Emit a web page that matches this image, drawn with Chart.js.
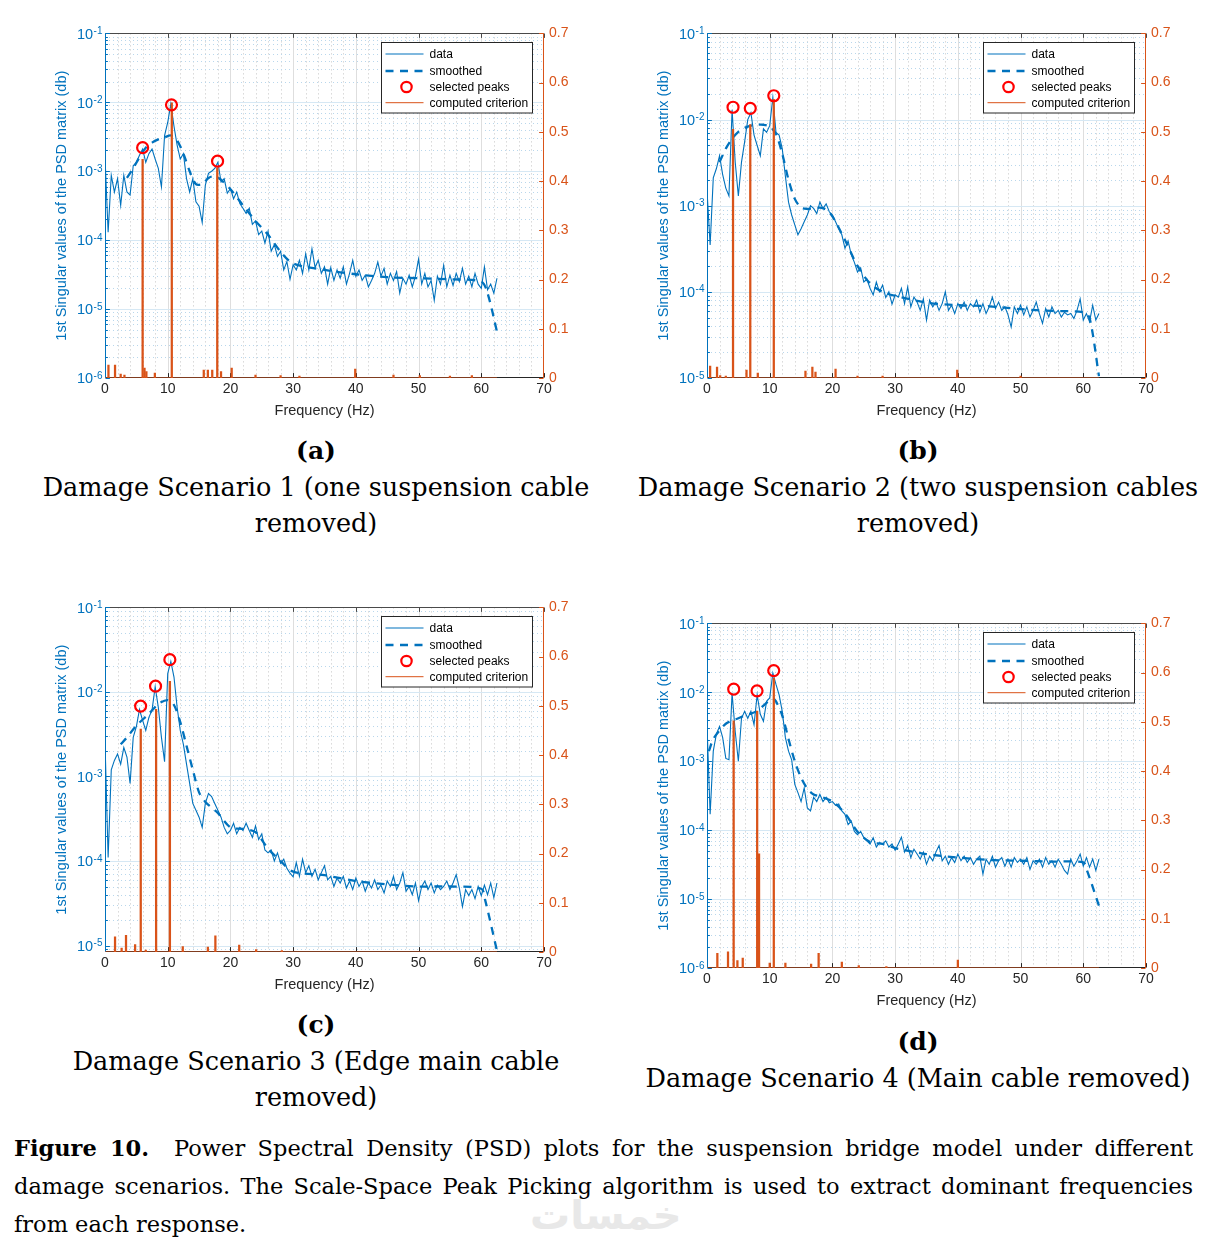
<!DOCTYPE html>
<html>
<head>
<meta charset="utf-8">
<script src="https://cdn.jsdelivr.net/npm/chart.js@4.4.1/dist/chart.umd.min.js"></script>
<style>
  body { margin: 0; background: #fff; width: 1215px; height: 1259px; position: relative; overflow: hidden; }
  canvas { position: absolute; }
  .sub { position: absolute; width: 640px; text-align: center; font-family: "DejaVu Serif", serif; font-size: 25.5px; line-height: 36px; color: #000; white-space: nowrap; }
  .sub b { font-size: 25px; }
  .cap { position: absolute; left: 14px; width: 1179px; font-family: "DejaVu Serif", serif; font-size: 22.5px; line-height: 38px; color: #000; white-space: nowrap; }
  .cap div { text-align: justify; text-align-last: justify; }
  .cap div.last { text-align: left; text-align-last: left; }
  .wm { position: absolute; left: 530px; top: 1192px; width: 150px; text-align: center; font-family: "DejaVu Sans", sans-serif; font-weight: bold; font-size: 40px; color: #e8e8e8; }
</style>
</head>
<body>
<canvas id="cA" width="570" height="410" style="left:40px;top:20px"></canvas>
<canvas id="cB" width="570" height="410" style="left:642px;top:20px"></canvas>
<canvas id="cC" width="570" height="410" style="left:40px;top:594px"></canvas>
<canvas id="cD" width="570" height="410" style="left:642px;top:610px"></canvas>

<div class="sub" style="left:-4px;top:432px"><b>(a)</b><br>Damage Scenario 1 (one suspension cable<br>removed)</div>
<div class="sub" style="left:598px;top:432px"><b>(b)</b><br>Damage Scenario 2 (two suspension cables<br>removed)</div>
<div class="sub" style="left:-4px;top:1006px"><b>(c)</b><br>Damage Scenario 3 (Edge main cable<br>removed)</div>
<div class="sub" style="left:598px;top:1023px"><b>(d)</b><br>Damage Scenario 4 (Main cable removed)</div>

<div class="wm">خمسات</div>
<div class="cap" style="top:1129px">
  <div><b>Figure 10.</b>&nbsp; Power Spectral Density (PSD) plots for the suspension bridge model under different</div>
  <div>damage scenarios. The Scale-Space Peak Picking algorithm is used to extract dominant frequencies</div>
  <div class="last">from each response.</div>
</div>

<script>
// frequency bins (Hz) shared by the four spectra
var FREQ = [0,0.5,1,1.5,2,2.5,3,3.5,4,4.5,5,5.5,6,6.5,7,7.5,8,8.5,9,9.5,
  10,10.5,11,11.5,12,12.5,13,13.5,14,14.5,15,15.5,16,16.5,17,17.5,18,18.5,19,19.5,
  20,20.5,21,21.5,22,22.5,23,23.5,24,24.5,25,25.5,26,26.5,27,27.5,28,28.5,29,29.5,
  30,30.5,31,31.5,32,32.5,33,33.5,34,34.5,35,35.5,36,36.5,37,37.5,38,38.5,39,39.5,
  40,40.5,41,41.5,42,42.5,43,43.5,44,44.5,45,45.5,46,46.5,47,47.5,48,48.5,49,49.5,
  50,50.5,51,51.5,52,52.5,53,53.5,54,54.5,55,55.5,56,56.5,57,57.5,58,58.5,59,59.5,
  60,60.5,61,61.5,62,62.5];

// 1st singular value of the PSD matrix, scenario 1..4
var PSD_A = [1.6e-3,1.3e-4,8.7e-4,5.0e-4,7.8e-4,3.2e-4,8.7e-4,5.0e-4,4.5e-4,1.2e-3,
  1.35e-3,1.7e-3,2.1e-3,1.35e-3,1.8e-3,2.1e-3,1.5e-3,1.1e-3,5.9e-4,3.3e-3,
  5.1e-3,9.5e-3,4.5e-3,2.4e-3,1.5e-3,1.8e-3,7.8e-4,5.0e-4,7.8e-4,3.6e-4,
  3.1e-4,1.8e-4,6.3e-4,9.3e-4,1.0e-3,1.1e-3,1.35e-3,7.0e-4,7.8e-4,4.8e-4,
  5.6e-4,4.0e-4,5.0e-4,3.4e-4,2.9e-4,2.45e-4,2.9e-4,1.7e-4,1.9e-4,1.2e-4,
  1.35e-4,9.1e-5,1.35e-4,6.9e-5,8.6e-5,5.8e-5,6.9e-5,3.7e-5,4.9e-5,2.7e-5,
  4.4e-5,3.7e-5,5.1e-5,3.3e-5,6.3e-5,3.7e-5,7.5e-5,4.0e-5,5.1e-5,3.3e-5,
  4.1e-5,2.3e-5,4.0e-5,2.6e-5,3.7e-5,2.8e-5,4.1e-5,2.3e-5,3.3e-5,5.1e-5,
  3.0e-5,3.7e-5,2.6e-5,3.1e-5,2.1e-5,2.6e-5,3.3e-5,4.8e-5,3.0e-5,3.9e-5,
  2.3e-5,3.3e-5,2.6e-5,3.5e-5,1.7e-5,2.8e-5,2.3e-5,3.1e-5,2.1e-5,3.0e-5,
  5.3e-5,2.3e-5,3.3e-5,2.1e-5,2.6e-5,1.34e-5,3.0e-5,2.3e-5,4.3e-5,2.1e-5,
  3.1e-5,2.2e-5,3.3e-5,2.5e-5,3.9e-5,2.3e-5,3.0e-5,2.1e-5,3.3e-5,2.3e-5,
  2.0e-5,4.1e-5,1.9e-5,2.3e-5,1.7e-5,2.8e-5];
var PSD_B = [1.5e-3,3.5e-4,2.1e-3,2.7e-3,3.8e-3,2.3e-3,1.6e-3,1.3e-3,1.3e-2,3.2e-3,
  1.3e-3,3.2e-3,5.5e-3,1.0e-2,1.2e-2,6.6e-3,5.0e-3,3.8e-3,7.8e-3,7.1e-3,
  8.5e-3,1.8e-2,7.1e-3,6.6e-3,4.6e-3,2.2e-3,1.1e-3,7.8e-4,6.0e-4,4.6e-4,
  5.4e-4,6.5e-4,7.8e-4,1.0e-3,9.3e-4,8.1e-4,1.1e-3,9.3e-4,1.05e-3,8.5e-4,
  7.8e-4,6.5e-4,5.4e-4,4.6e-4,3.2e-4,3.9e-4,2.7e-4,2.2e-4,1.7e-4,1.9e-4,
  1.3e-4,1.4e-4,1.1e-4,9.2e-5,1.3e-4,1.0e-4,1.2e-4,8.6e-5,1.0e-4,7.2e-5,
  9.2e-5,8.7e-5,1.1e-4,7.3e-5,1.14e-4,6.7e-5,8.7e-5,7.6e-5,6.1e-5,8.3e-5,
  4.7e-5,8.0e-5,6.7e-5,7.6e-5,6.1e-5,7.3e-5,1.0e-4,6.1e-5,7.0e-5,5.6e-5,
  7.3e-5,6.4e-5,7.6e-5,6.1e-5,7.3e-5,6.7e-5,8.0e-5,5.8e-5,7.3e-5,5.6e-5,
  6.7e-5,8.7e-5,6.4e-5,7.6e-5,6.1e-5,6.7e-5,5.4e-5,3.9e-5,6.7e-5,5.6e-5,
  7.0e-5,5.4e-5,6.7e-5,5.1e-5,6.1e-5,7.6e-5,5.6e-5,4.3e-5,6.4e-5,5.1e-5,
  6.7e-5,5.6e-5,6.1e-5,5.1e-5,5.8e-5,5.4e-5,5.6e-5,4.9e-5,6.1e-5,8.3e-5,
  4.7e-5,5.6e-5,4.5e-5,7.0e-5,4.7e-5,5.6e-5];
var PSD_C = [2.6e-3,1.1e-4,1.2e-3,1.55e-3,1.85e-3,1.4e-3,2.2e-3,1.7e-3,8.3e-4,2.9e-3,
  3.9e-3,6.2e-3,4.6e-3,3.5e-3,5.0e-3,6.1e-3,1.15e-2,6.6e-3,2.9e-3,1.5e-3,
  1.65e-2,2.3e-2,1.5e-2,6.6e-3,3.5e-3,2.4e-3,1.4e-3,8.3e-4,4.8e-4,4.0e-4,
  3.3e-4,2.5e-4,4.8e-4,6.3e-4,5.8e-4,4.8e-4,4.0e-4,3.3e-4,2.5e-4,2.1e-4,
  2.3e-4,2.8e-4,2.1e-4,2.5e-4,2.3e-4,2.8e-4,2.3e-4,1.9e-4,2.6e-4,1.8e-4,
  2.1e-4,1.35e-4,1.25e-4,1.35e-4,1.0e-4,1.25e-4,9.4e-5,1.05e-4,8.2e-5,7.2e-5,
  6.5e-5,9.6e-5,6.6e-5,1.05e-4,7.3e-5,8.8e-5,6.6e-5,8.0e-5,6.0e-5,7.3e-5,
  8.8e-5,6.0e-5,6.6e-5,5.0e-5,6.3e-5,5.5e-5,6.6e-5,4.8e-5,5.8e-5,4.6e-5,
  6.3e-5,5.0e-5,5.8e-5,4.4e-5,5.5e-5,4.8e-5,6.0e-5,4.6e-5,5.2e-5,4.2e-5,
  5.8e-5,5.0e-5,6.6e-5,4.6e-5,5.5e-5,7.3e-5,4.4e-5,5.0e-5,4.0e-5,5.5e-5,
  3.4e-5,5.0e-5,5.8e-5,4.6e-5,5.5e-5,4.2e-5,5.2e-5,4.6e-5,5.0e-5,5.8e-5,
  4.6e-5,5.5e-5,6.9e-5,4.8e-5,2.9e-5,4.6e-5,3.9e-5,4.6e-5,3.6e-5,5.0e-5,
  3.9e-5,5.2e-5,4.0e-5,5.5e-5,3.7e-5,5.5e-5];
var PSD_D = [3.4e-3,1.7e-4,1.4e-3,2.5e-3,3.2e-3,2.2e-3,1.1e-3,1.05e-3,9.7e-3,2.7e-3,
  1.0e-3,4.2e-3,5.3e-3,4.2e-3,5.3e-3,3.4e-3,9.2e-3,4.8e-3,3.8e-3,7.4e-3,
  8.3e-3,1.9e-2,1.3e-2,9.2e-3,5.3e-3,2.2e-3,1.4e-3,1.05e-3,4.6e-4,3.5e-4,
  2.6e-4,4.1e-4,2.1e-4,1.9e-4,3.0e-4,2.6e-4,3.3e-4,2.6e-4,3.0e-4,2.5e-4,
  2.6e-4,2.3e-4,2.4e-4,1.9e-4,1.7e-4,1.2e-4,1.35e-4,9.6e-5,8.6e-5,9.6e-5,
  7.8e-5,7.0e-5,6.3e-5,7.8e-5,5.7e-5,6.6e-5,6.3e-5,7.0e-5,5.7e-5,6.3e-5,
  5.1e-5,6.3e-5,7.9e-5,4.8e-5,6.0e-5,4.0e-5,5.3e-5,4.5e-5,3.8e-5,4.8e-5,
  3.2e-5,4.2e-5,3.6e-5,4.8e-5,6.0e-5,3.6e-5,4.2e-5,3.2e-5,4.0e-5,3.4e-5,
  4.5e-5,3.6e-5,4.2e-5,3.4e-5,4.0e-5,3.2e-5,3.8e-5,4.2e-5,2.3e-5,3.8e-5,
  3.2e-5,4.2e-5,2.9e-5,3.6e-5,4.0e-5,3.0e-5,3.8e-5,2.9e-5,4.0e-5,3.4e-5,
  3.8e-5,3.2e-5,4.0e-5,2.7e-5,3.6e-5,3.2e-5,3.8e-5,2.9e-5,4.0e-5,3.2e-5,
  3.6e-5,2.9e-5,3.8e-5,3.2e-5,2.6e-5,2.3e-5,3.8e-5,3.0e-5,3.6e-5,4.5e-5,
  3.0e-5,4.0e-5,2.9e-5,3.8e-5,2.6e-5,3.8e-5];

// smoothed spectra
var SM_A_F = [3.5,4.5,5.5,6.5,7.5,8.5,9.5,10.5,11.5,12.5,13.5,14.5,15.5,16.5,17.5,18.5,20,22,24,26,28,30,35,40,45,50,55,60,61,62.5];
var SM_A_V = [8e-4,1.1e-3,1.6e-3,2.2e-3,2.6e-3,2.9e-3,3.1e-3,3.3e-3,2.8e-3,1.8e-3,1.0e-3,6.5e-4,6.5e-4,8e-4,8.5e-4,7.5e-4,5.5e-4,3.2e-4,1.9e-4,1.2e-4,6.8e-5,4.6e-5,3.7e-5,3.2e-5,2.9e-5,2.8e-5,2.7e-5,2.5e-5,1.7e-5,4.7e-6];
var SM_B_F = [2,3,4,5,6,7,8,9,10,11,12,13,14,15,16,17,18,19,20,22,24,26,28,30,35,40,45,50,55,60,61,62.5];
var SM_B_V = [3.2e-3,4.6e-3,6.0e-3,7.2e-3,8.0e-3,8.5e-3,8.7e-3,8.7e-3,8.3e-3,6.8e-3,4.0e-3,2.0e-3,1.2e-3,9.5e-4,9.2e-4,9.3e-4,9.5e-4,9.0e-4,7.5e-4,4.0e-4,2.0e-4,1.25e-4,1.0e-4,9.0e-5,7.5e-5,7.0e-5,6.8e-5,6.3e-5,6.0e-5,5.8e-5,5.0e-5,1.05e-5];
var SM_C_F = [2.5,3.5,5,7,8.5,10,11,12,13,14,15,16,17,18,20,22,24,26,28,30,35,40,45,50,55,60,60.6,62.5];
var SM_C_V = [2.4e-3,2.9e-3,4.0e-3,5.5e-3,7.2e-3,8.0e-3,7.0e-3,4.4e-3,2.3e-3,1.2e-3,6.5e-4,5.0e-4,4.3e-4,3.7e-4,2.5e-4,2.4e-4,2.2e-4,1.4e-4,1.0e-4,7.5e-5,6.8e-5,5.8e-5,5.3e-5,5.0e-5,5.0e-5,4.7e-5,3.5e-5,8.7e-6];
var SM_D_F = [0.3,1,2,3,4,5,6,7,8,9,10,10.5,11,12,13,14,15,16,17,18,20,22,24,26,28,30,35,40,45,50,55,60,60.6,62.5];
var SM_D_V = [1.4e-3,2.1e-3,2.8e-3,3.5e-3,3.9e-3,4.2e-3,4.6e-3,4.9e-3,5.4e-3,6.4e-3,7.8e-3,8.1e-3,7.4e-3,4.6e-3,2.1e-3,1.0e-3,5.8e-4,4.0e-4,3.3e-4,3.1e-4,2.6e-4,1.75e-4,9.5e-5,6.7e-5,6.3e-5,5.5e-5,4.5e-5,4.0e-5,3.7e-5,3.6e-5,3.5e-5,3.4e-5,2.6e-5,8.0e-6];

// selected peaks
var PK_A_F = [6.0, 10.6, 17.95]; var PK_A_V = [2.2e-3, 9.2e-3, 1.4e-3];
var PK_B_F = [4.15, 6.9, 10.65];  var PK_B_V = [1.39e-2, 1.35e-2, 1.89e-2];
var PK_C_F = [5.68, 8.06, 10.34]; var PK_C_V = [6.8e-3, 1.17e-2, 2.41e-2];
var PK_D_F = [4.26, 7.98, 10.64]; var PK_D_V = [1.11e-2, 1.05e-2, 2.07e-2];

// computed criterion (right axis)
var CR_A_F = [0.55,1.6,2.5,3.1,6.0,6.3,6.6,7.95,10.65,15.75,16.4,17.1,17.9,18.5,20.2,24,28,31,39.9,46,50.2,55,58.5];
var CR_A_V = [0.026,0.026,0.008,0.006,0.444,0.02,0.013,0.01,0.559,0.016,0.016,0.016,0.427,0.013,0.02,0.006,0.005,0.004,0.018,0.006,0.005,0.004,0.005];
var CR_B_F = [0.5,1.6,2.1,3.0,4.15,6.3,6.9,8.1,10.65,15.7,16.8,17.3,20.5,24,28,39.9,50];
var CR_B_V = [0.024,0.022,0.005,0.004,0.505,0.016,0.515,0.01,0.566,0.014,0.022,0.012,0.018,0.004,0.004,0.016,0.004];
var CR_C_F = [1.6,2.65,3.35,4.8,5.7,6.5,8.15,10.35,12.4,16.4,17.6,21.4,24.1,28.2];
var CR_C_V = [0.031,0.008,0.034,0.015,0.453,0.004,0.493,0.55,0.011,0.01,0.033,0.014,0.005,0.003];
var CR_D_F = [1.65,3.35,4.25,4.85,5.7,8.0,8.3,10.0,10.65,12.5,16.6,17.8,21.5,24.2,28.6,40];
var CR_D_V = [0.030,0.033,0.502,0.015,0.02,0.522,0.232,0.01,0.589,0.01,0.008,0.030,0.012,0.005,0.003,0.016];

var X_TICKS = [0, 10, 20, 30, 40, 50, 60, 70];
var R_TICKS = [0, 0.1, 0.2, 0.3, 0.4, 0.5, 0.6, 0.7];
var LEGEND_LABELS = ["data", "smoothed", "selected peaks", "computed criterion"];

var BLUE = "#0072BD";
var ORANGE = "#D95319";
var RED = "#FF0000";
var DARK = "#262626";
var FONT = "'Liberation Sans', Arial, sans-serif";

function pairs(xs, ys) {
    var out = [];
    for (var i = 0; i < xs.length; i++) {
        out.push({ x: xs[i], y: ys[i] });
    }
    return out;
}

function hline(ctx, x1, x2, y) { ctx.beginPath(); ctx.moveTo(x1, y); ctx.lineTo(x2, y); ctx.stroke(); }
function vline(ctx, x, y1, y2) { ctx.beginPath(); ctx.moveTo(x, y1); ctx.lineTo(x, y2); ctx.stroke(); }

// log decades and 2..9 minors inside the left axis range
function logTicks(scale) {
    var major = [], minor = [];
    var lo = Math.floor(Math.log10(scale.min)), hi = Math.ceil(Math.log10(scale.max));
    for (var d = lo; d <= hi; d++) {
        var v = Math.pow(10, d);
        if (v >= scale.min * 0.999 && v <= scale.max * 1.001) major.push(d);
        for (var m = 2; m <= 9; m++) {
            var w = m * v;
            if (w > scale.min && w < scale.max) minor.push(w);
        }
    }
    return { major: major, minor: minor };
}

// MATLAB-like grid, box and inward ticks
var matlabAxes = {
    id: "matlabAxes",
    beforeDatasetsDraw: function (chart) {
        var ctx = chart.ctx, a = chart.chartArea;
        var x = chart.scales.x, y = chart.scales.y, yR = chart.scales.yR;
        var lt = logTicks(y);
        ctx.save();
        ctx.lineWidth = 1;

        // minor grid, dotted
        ctx.setLineDash([1, 3]);
        ctx.strokeStyle = "#c4c4c4";
        for (var f = 2; f < 70; f += 2) {
            if (f % 10 === 0) continue;
            vline(ctx, Math.round(x.getPixelForValue(f)) + 0.5, a.top, a.bottom);
        }
        ctx.strokeStyle = "#b9d7ec";
        lt.minor.forEach(function (v) {
            hline(ctx, a.left, a.right, Math.round(y.getPixelForValue(v)) + 0.5);
        });

        // major grid
        ctx.setLineDash([]);
        ctx.strokeStyle = "#dedede";
        X_TICKS.forEach(function (t) {
            if (t > 0 && t < 70) vline(ctx, Math.round(x.getPixelForValue(t)) + 0.5, a.top, a.bottom);
        });
        ctx.strokeStyle = "#d6e8f4";
        lt.major.forEach(function (d) {
            var py = Math.round(y.getPixelForValue(Math.pow(10, d))) + 0.5;
            if (py > a.top + 1 && py < a.bottom - 1) hline(ctx, a.left, a.right, py);
        });

        // box lines
        var L = Math.round(a.left) + 0.5, R = Math.round(a.right) - 0.5;
        var T = Math.round(a.top) + 0.5, B = Math.round(a.bottom) - 0.5;
        ctx.strokeStyle = "#4a4a4a";
        hline(ctx, L, R, T);
        ctx.strokeStyle = DARK;
        hline(ctx, L, R, B);
        X_TICKS.forEach(function (t) {
            var px = Math.round(x.getPixelForValue(t)) + 0.5;
            ctx.strokeStyle = DARK;
            vline(ctx, px, B, B - 4.4);
            ctx.strokeStyle = "#4a4a4a";
            vline(ctx, px, T, T + 4.4);
        });
        ctx.strokeStyle = BLUE;
        vline(ctx, L, a.top, a.bottom);
        lt.major.forEach(function (d) {
            hline(ctx, L, L + 4.4, Math.round(y.getPixelForValue(Math.pow(10, d))) + 0.5);
        });
        lt.minor.forEach(function (v) {
            hline(ctx, L, L + 2.4, Math.round(y.getPixelForValue(v)) + 0.5);
        });
        ctx.strokeStyle = ORANGE;
        vline(ctx, R, a.top, a.bottom);
        R_TICKS.forEach(function (t) {
            hline(ctx, R - 4.4, R, Math.round(yR.getPixelForValue(t)) + 0.5);
        });

        // left tick labels 10^n
        ctx.fillStyle = BLUE;
        ctx.textAlign = "right";
        ctx.textBaseline = "alphabetic";
        lt.major.forEach(function (d) {
            var py = y.getPixelForValue(Math.pow(10, d));
            var ex = a.left - 2.5;
            var exp = String(d);
            ctx.font = "10px " + FONT;
            var ew = ctx.measureText(exp).width;
            ctx.fillText(exp, ex, py + 0.5);
            ctx.font = "14.5px " + FONT;
            ctx.fillText("10", ex - ew - 0.5, py + 5.2);
        });
        ctx.restore();
    },
    afterDatasetsDraw: function (chart) {
        var ctx = chart.ctx, a = chart.chartArea;
        var bw = 151, bh = 70.5;
        var bx = Math.round(a.right - 12 - bw) + 0.5, by = Math.round(a.top + 9) + 0.5;
        var rows = [11.5, 28.5, 44.5, 60.2];
        ctx.save();
        ctx.fillStyle = "#fff";
        ctx.fillRect(bx, by, bw, bh);
        ctx.strokeStyle = DARK;
        ctx.lineWidth = 1;
        ctx.strokeRect(bx, by, bw, bh);

        ctx.lineWidth = 1.2;
        ctx.strokeStyle = BLUE;
        hline(ctx, bx + 4, bx + 42, by + rows[0]);
        ctx.lineWidth = 2.3;
        ctx.setLineDash([8, 6.5]);
        hline(ctx, bx + 4, bx + 42, by + rows[1]);
        ctx.setLineDash([]);
        ctx.strokeStyle = RED;
        ctx.lineWidth = 2.2;
        ctx.beginPath();
        ctx.arc(bx + 25, by + rows[2], 5.2, 0, Math.PI * 2);
        ctx.stroke();
        ctx.strokeStyle = ORANGE;
        ctx.lineWidth = 1;
        hline(ctx, bx + 4, bx + 42, by + rows[3]);

        ctx.fillStyle = "#000";
        ctx.font = "12px " + FONT;
        ctx.textAlign = "left";
        ctx.textBaseline = "middle";
        LEGEND_LABELS.forEach(function (t, i) {
            ctx.fillText(t, bx + 48, by + rows[i] + 0.5);
        });
        ctx.restore();
    }
};

function makePanel(id, psd, smF, smV, pkF, pkV, crF, crV, yMin, yMax) {
    var ctx = document.getElementById(id).getContext("2d");
    return new Chart(ctx, {
        type: "line",
        data: {
            datasets: [
                {
                    label: "data",
                    data: pairs(FREQ, psd),
                    borderColor: BLUE,
                    borderWidth: 1.1,
                    pointRadius: 0,
                    tension: 0,
                    yAxisID: "y",
                    order: 4,
                },
                {
                    label: "smoothed",
                    data: pairs(smF, smV),
                    borderColor: BLUE,
                    borderWidth: 2.3,
                    borderDash: [8, 6.5],
                    pointRadius: 0,
                    tension: 0.3,
                    yAxisID: "y",
                    order: 3,
                },
                {
                    type: "bar",
                    label: "computed criterion",
                    data: pairs(crF, crV),
                    backgroundColor: ORANGE,
                    barThickness: 1.6,
                    yAxisID: "yR",
                    order: 2,
                },
                {
                    label: "criterion base",
                    data: [{ x: FREQ[0], y: 0 }, { x: FREQ[FREQ.length - 1], y: 0 }],
                    borderColor: ORANGE,
                    borderWidth: 1.2,
                    pointRadius: 0,
                    yAxisID: "yR",
                    order: 2,
                },
                {
                    label: "selected peaks",
                    data: pairs(pkF, pkV),
                    showLine: false,
                    pointRadius: 5.5,
                    pointBorderWidth: 2.2,
                    pointBorderColor: RED,
                    pointBackgroundColor: "rgba(0,0,0,0)",
                    yAxisID: "y",
                    order: 1,
                },
            ],
        },
        options: {
            responsive: false,
            animation: false,
            events: [],
            layout: { padding: { top: 12, left: 0, right: 0, bottom: 0 } },
            plugins: {
                legend: { display: false },
                tooltip: { enabled: false },
            },
            scales: {
                x: {
                    type: "linear",
                    min: 0,
                    max: 70,
                    offset: false,
                    grid: { display: false, drawTicks: false },
                    border: { display: false },
                    ticks: { stepSize: 10, color: DARK, padding: 3, maxRotation: 0, autoSkip: false, font: { family: FONT, size: 14 } },
                    title: { display: true, text: "Frequency (Hz)", color: DARK, font: { family: FONT, size: 14.5 }, padding: { top: 0, bottom: 10 } },
                    afterFit: function (s) { s.height = 52; },
                },
                y: {
                    type: "logarithmic",
                    position: "left",
                    min: yMin,
                    max: yMax,
                    grid: { display: false, drawTicks: false },
                    border: { display: false },
                    ticks: { display: false },
                    title: { display: true, text: "1st Singular values of the PSD matrix (db)", color: BLUE, font: { family: FONT, size: 14.5 }, padding: { top: 13, bottom: 0 } },
                    afterFit: function (s) { s.width = 65; },
                },
                yR: {
                    type: "linear",
                    position: "right",
                    min: 0,
                    max: 0.7,
                    grid: { display: false, drawTicks: false },
                    border: { display: false },
                    ticks: {
                        stepSize: 0.1,
                        color: ORANGE,
                        padding: 5,
                        font: { family: FONT, size: 14 },
                        callback: function (v) { return v === 0 ? "0" : v.toFixed(1); },
                    },
                    afterFit: function (s) { s.width = 66; },
                },
            },
        },
        plugins: [matlabAxes],
    });
}

makePanel("cA", PSD_A, SM_A_F, SM_A_V, PK_A_F, PK_A_V, CR_A_F, CR_A_V, 1e-6, 1e-1);
makePanel("cB", PSD_B, SM_B_F, SM_B_V, PK_B_F, PK_B_V, CR_B_F, CR_B_V, 1e-5, 1e-1);
makePanel("cC", PSD_C, SM_C_F, SM_C_V, PK_C_F, PK_C_V, CR_C_F, CR_C_V, 8.4e-6, 1e-1);
makePanel("cD", PSD_D, SM_D_F, SM_D_V, PK_D_F, PK_D_V, CR_D_F, CR_D_V, 1e-6, 1e-1);
</script>
</body>
</html>
